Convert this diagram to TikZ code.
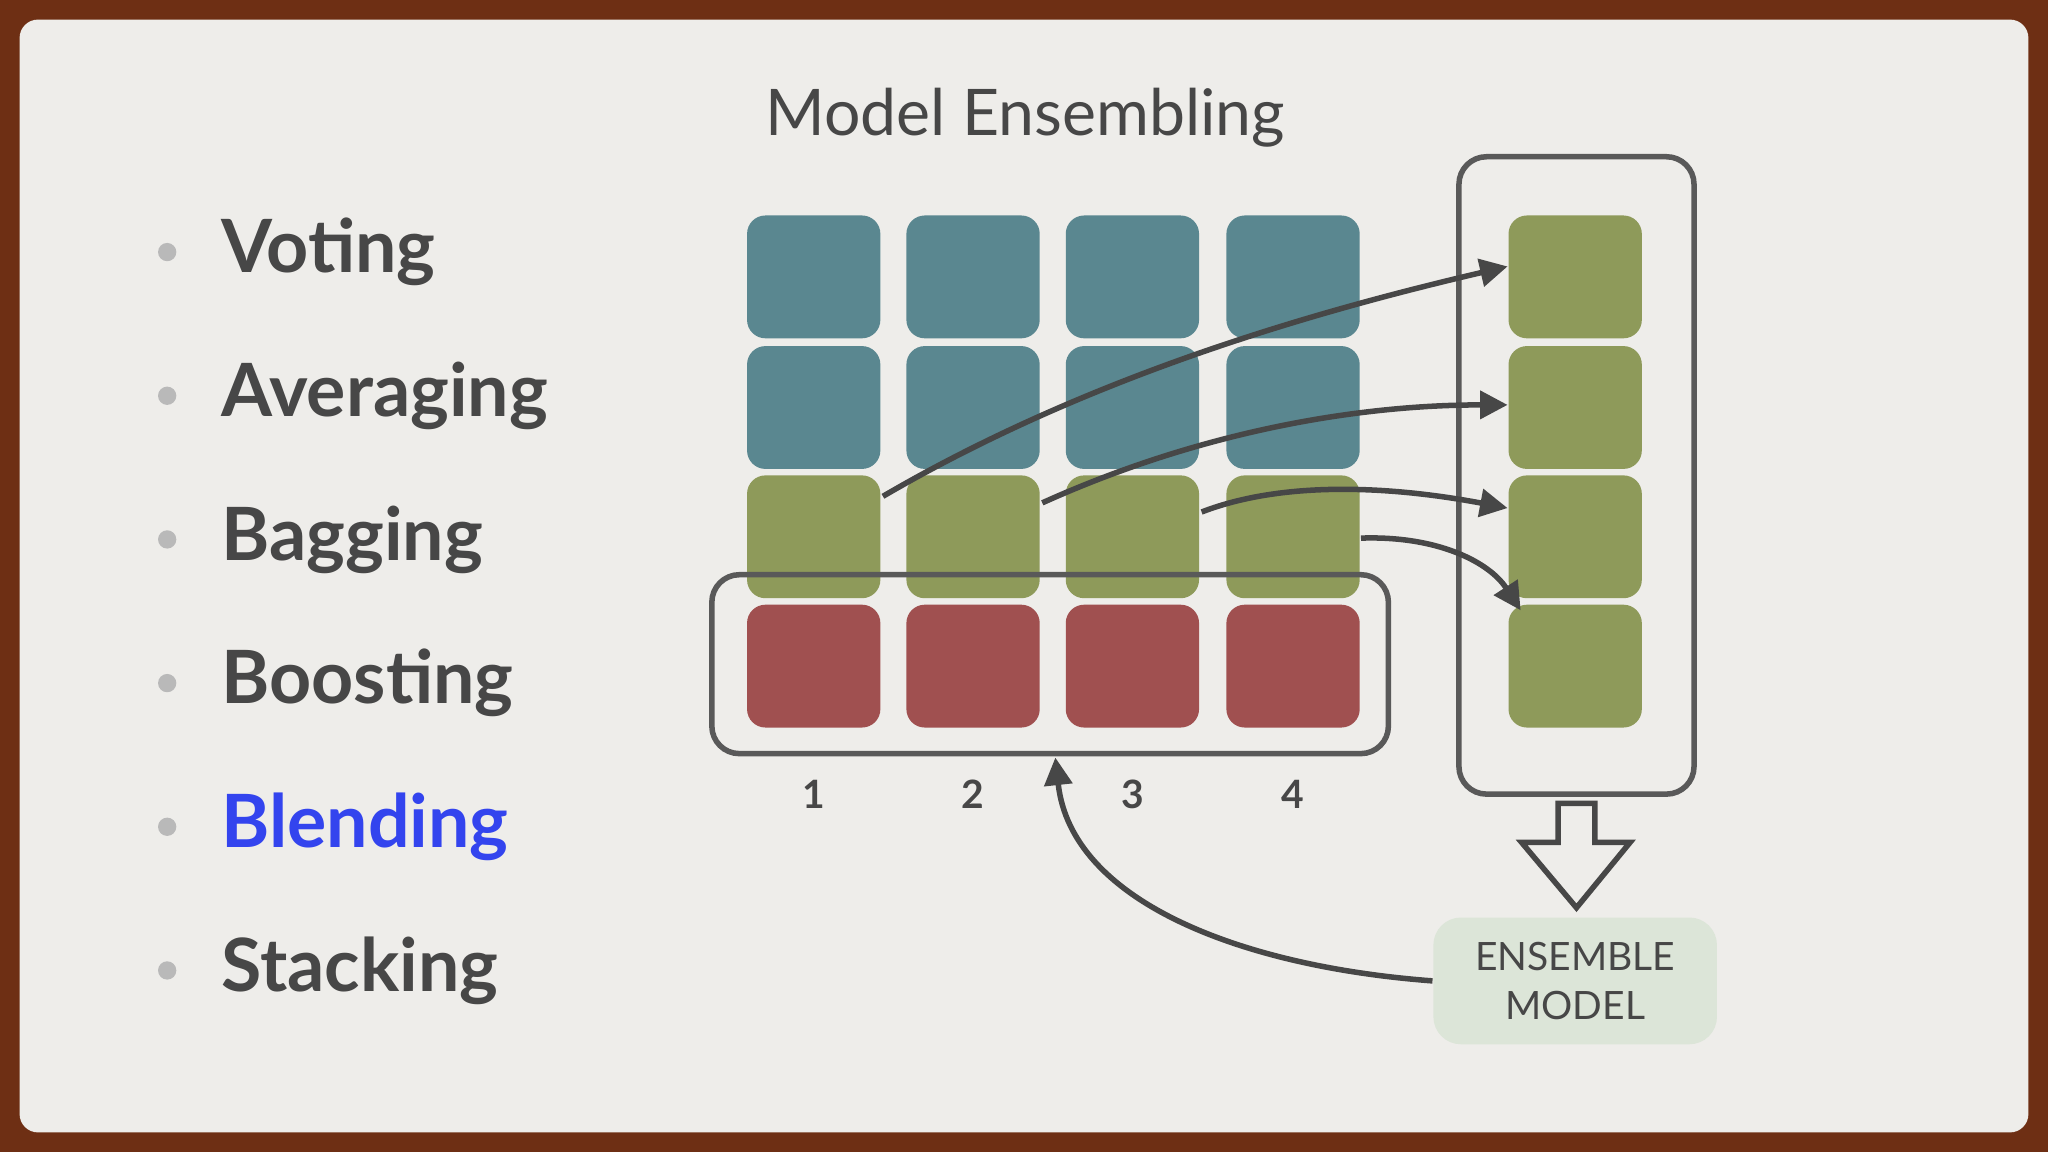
\documentclass[tikz,border=0pt]{standalone}
\usepackage{fontspec}
\setmainfont{Lato}
\usetikzlibrary{arrows.meta}
\definecolor{frame}{HTML}{6E2F14}
\definecolor{paper}{HTML}{EEEDEA}
\definecolor{teal}{HTML}{5A8790}
\definecolor{olive}{HTML}{8E9A5A}
\definecolor{rred}{HTML}{A05050}
\definecolor{ens}{HTML}{DCE5D8}
\definecolor{txt}{HTML}{474747}
\definecolor{blu}{HTML}{3344EE}
\tikzset{
  x=0.01cm,y=-0.01cm,
  cell/.style={rounded corners=4pt,minimum width=1.02cm,minimum height=0.94cm,inner sep=0pt},
  grp/.style={draw=txt!90,line width=1.2pt,rounded corners=6pt},
  conn/.style={draw=txt,line width=1.2pt,-{Triangle[length=6pt,width=6pt]}},
  bullet/.style={anchor=west,font=\fontsize{16}{18}\selectfont\bfseries,text=txt},
  num/.style={font=\fontsize{8.5}{10}\selectfont\bfseries,text=txt}
}
\begin{document}
\begin{tikzpicture}
\useasboundingbox (0,0) rectangle (1568,882);
\fill[frame] (0,0) rectangle (1568,882);
\fill[paper,rounded corners=4pt] (15,15) rectangle (1553,867);
\node[text=txt,font=\fontsize{14}{16}\selectfont] (title) at (785,90) {Model Ensembling};
\foreach \t/\y/\c [count=\i] in {Voting/193/txt,Averaging/303/txt,Bagging/413/txt,Boosting/523/txt,Blending/633/blu,Stacking/743/txt}{
  \fill[gray!55] (128,\y) circle (7);
  \node[bullet,text=\c] (b\i) at (157,\y) {\t};
}
\foreach \x [count=\i] in {623,745,867,990}{
  \node[cell,fill=teal] (t\i) at (\x,212) {};
  \node[cell,fill=teal] (u\i) at (\x,312) {};
  \node[cell,fill=olive] (g\i) at (\x,411) {};
  \node[cell,fill=rred] (r\i) at (\x,510) {};
  \node[num] (n\i) at (\x,608) {\i};
}
\foreach \y [count=\i] in {212,312,411,510}{
  \node[cell,fill=olive] (e\i) at (1206,\y) {};
}
\draw[grp] (545,440) rectangle (1063,577);
\draw[grp] (1117,120) rectangle (1297,608);
\coordinate (s1) at (676,380);
\coordinate (s2) at (798,385);
\coordinate (s3) at (920,392);
\coordinate (s4) at (1042,412);
\draw[conn] (s1) .. controls (830,290) and (1000,240) .. ([yshift=0.08cm]e1.west);
\draw[conn] (s2) .. controls (920,330) and (1040,310) .. ([yshift=0.02cm]e2.west);
\draw[conn] (s3) .. controls (990,365) and (1080,375) .. ([yshift=0.22cm]e3.west);
\draw[conn] (s4) .. controls (1100,410) and (1140,430) .. ([xshift=0.1cm,yshift=-0.05cm]e4.north west);
\node[fill=ens,rounded corners=6pt,minimum width=2.17cm,minimum height=0.97cm,align=center,text=txt,font=\fontsize{8.5}{10.5}\selectfont,inner sep=0pt] (em) at (1206,751) {ENSEMBLE\\MODEL};
\draw[conn] (em.west) .. controls (950,740) and (820,690) .. (808,580);
\draw[line width=1.2pt,draw=txt,fill=paper] (1193,615) -- (1221,615) -- (1221,645) -- (1248,645) -- (1207,695) -- (1165,645) -- (1193,645) -- cycle;
\end{tikzpicture}
\end{document}
